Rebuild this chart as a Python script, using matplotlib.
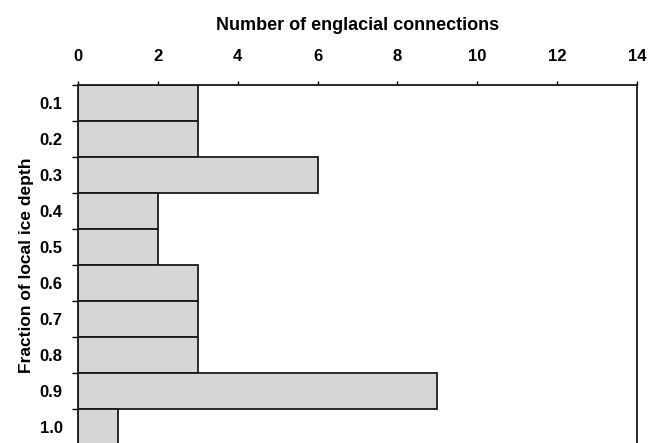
import matplotlib
matplotlib.use("Agg")
import matplotlib.pyplot as plt
import numpy as np

plt.rcParams['font.family'] = ['Liberation Sans', 'DejaVu Sans']

depth_labels = ["0.1", "0.2", "0.3", "0.4", "0.5", "0.6", "0.7", "0.8", "0.9", "1.0"]
connections = [3, 3, 6, 2, 2, 3, 3, 3, 9, 1]
x_ticks = [0, 2, 4, 6, 8, 10, 12, 14]

fig = plt.figure(figsize=(6.51, 4.43), dpi=100)
ax = fig.add_axes([78/651, 1 - 445/443, 559/651, 360/443])

pos = np.arange(1, len(connections) + 1)
ax.barh(pos, connections, height=1.0, color='#d6d6d6', edgecolor='#1a1a1a', linewidth=1.3)

ax.set_xlim(0, 14)
ax.set_ylim(10.5, 0.5)

ax.xaxis.tick_top()
ax.xaxis.set_label_position('top')
ax.set_xticks(x_ticks)
ax.set_xticklabels([str(v) for v in x_ticks], fontsize=12, fontweight='bold')
ax.tick_params(axis='x', direction='out', length=3, width=1, pad=12)
ax.set_xlabel("Number of englacial connections", fontsize=13, fontweight='bold', labelpad=14)

ax.set_yticks(pos)
ax.set_yticklabels(depth_labels, fontsize=12, fontweight='bold')
ax.tick_params(axis='y', which='major', length=0, pad=11)
ax.set_yticks(np.arange(0.5, 11, 1.0), minor=True)
ax.tick_params(axis='y', which='minor', direction='out', length=4, width=1)
ax.set_ylabel("Fraction of local ice depth", fontsize=12.5, fontweight='bold', labelpad=4)

for s in ['left', 'top', 'right']:
    ax.spines[s].set_linewidth(1.3)
    ax.spines[s].set_color('#1a1a1a')
ax.spines['bottom'].set_visible(False)

fig.savefig("out.png", dpi=100)
